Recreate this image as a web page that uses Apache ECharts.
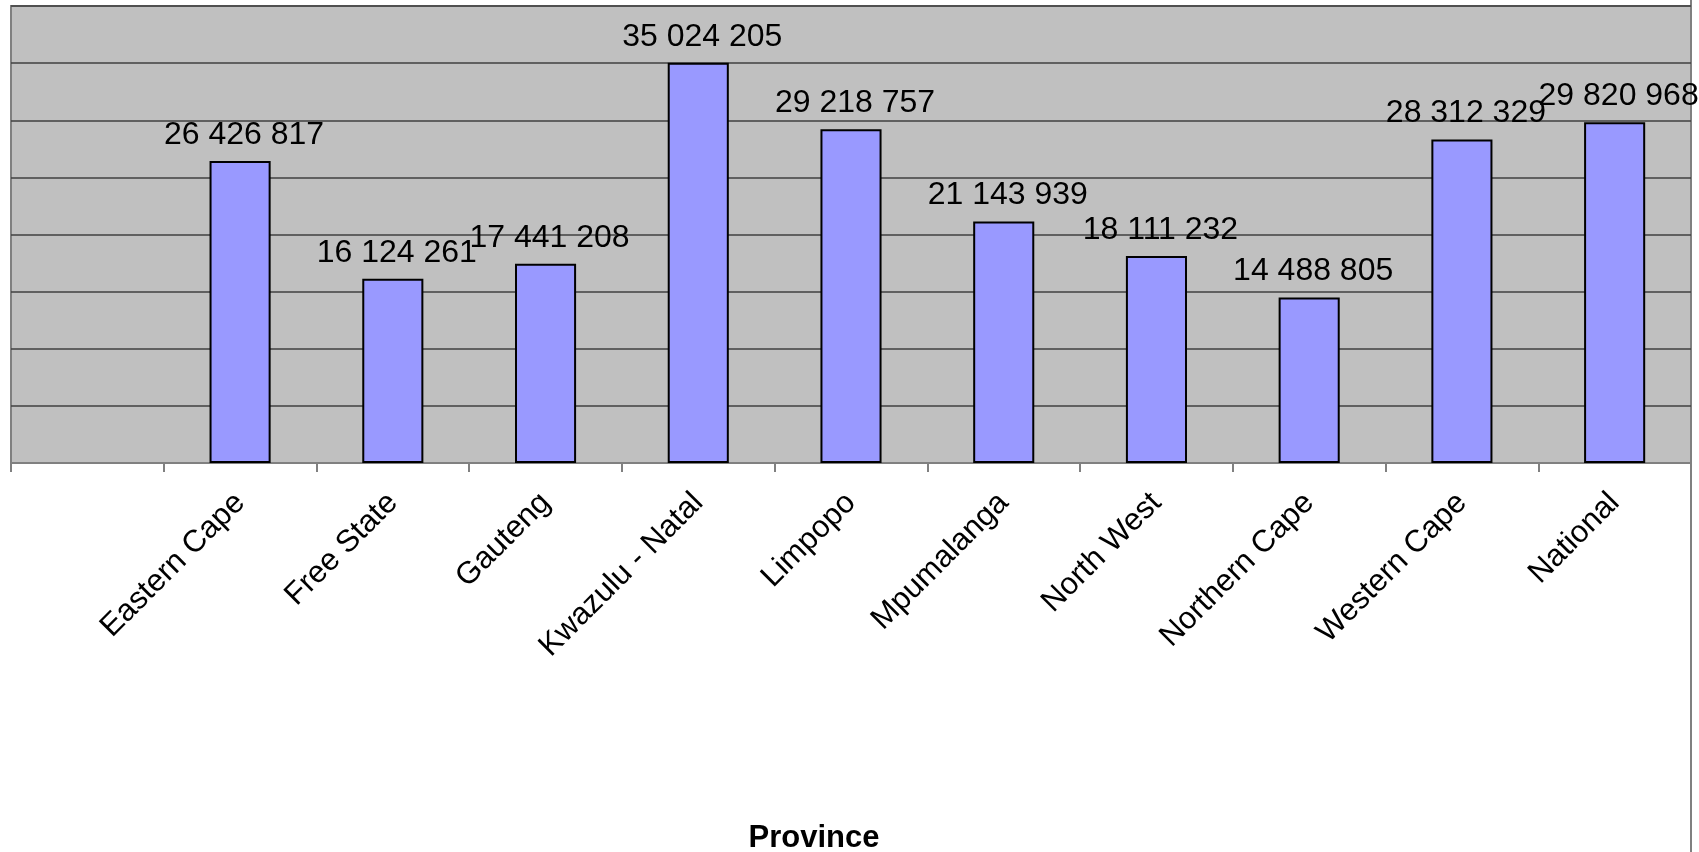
<!DOCTYPE html>
<html>
<head>
<meta charset="utf-8">
<script src="https://cdn.jsdelivr.net/npm/echarts@6/dist/echarts.min.js"></script>
<style>
  html, body { margin: 0; padding: 0; background: #ffffff; }
  #chart { width: 1699px; height: 852px; }
</style>
</head>
<body>
<div id="chart"></div>
<script>
// Provinces (the first slot is an empty category, as in the source sheet)
const categories = ['', 'Eastern Cape', 'Free State', 'Gauteng', 'Kwazulu - Natal', 'Limpopo',
  'Mpumalanga', 'North West', 'Northern Cape', 'Western Cape', 'National'];
const values = [null, 26426817, 16124261, 17441208, 35024205, 29218757,
  21143939, 18111232, 14488805, 28312329, 29820968];
const axisTitle = 'Province';
const yMin = 0;
const yMax = 40000000;
const yStep = 5000000;

const FONT = '"Liberation Sans", Arial, sans-serif';

function spaced(n) {
  return String(Math.round(n)).replace(/\B(?=(\d{3})+(?!\d))/g, ' ');
}

const chart = echarts.init(document.getElementById('chart'), null, { renderer: 'canvas' });

chart.setOption({
  animation: false,
  backgroundColor: '#ffffff',
  grid: {
    left: 11, right: 8, top: 6, bottom: 389,
    show: true,
    backgroundColor: '#c0c0c0',
    borderColor: '#808080',
    borderWidth: 2,
    outerBoundsMode: 'none',
    containLabel: false
  },
  xAxis: {
    type: 'category',
    data: categories,
    boundaryGap: true,
    axisLine: { show: true, lineStyle: { color: '#808080', width: 2 } },
    axisTick: { show: true, alignWithLabel: false, length: 9, lineStyle: { color: '#808080', width: 2 } },
    axisLabel: {
      interval: 0,
      rotate: 45,
      margin: 35,
      color: '#000000',
      fontFamily: FONT,
      fontSize: 31
    }
  },
  yAxis: {
    type: 'value',
    min: yMin,
    max: yMax,
    interval: yStep,
    axisLine: { show: false },
    axisTick: { show: false },
    axisLabel: { show: false },
    splitLine: { show: true, lineStyle: { color: '#404040', width: 1.5 } }
  },
  series: [{
    type: 'bar',
    data: values,
    barWidth: '40%',
    itemStyle: { color: '#9999ff', borderColor: '#000000', borderWidth: 2 },
    label: {
      show: true,
      position: 'top',
      distance: 10,
      offset: [4, 0],
      color: '#000000',
      fontFamily: FONT,
      fontSize: 32,
      formatter: p => spaced(p.value)
    }
  }],
  graphic: [
    {
      type: 'line',
      shape: { x1: 1691, y1: 0, x2: 1691, y2: 852 },
      style: { stroke: '#808080', lineWidth: 2 }
    },
    {
      type: 'text',
      x: 814,
      y: 838,
      style: {
        text: axisTitle,
        fill: '#000000',
        font: 'bold 31px ' + FONT,
        textAlign: 'center',
        textVerticalAlign: 'middle'
      }
    }
  ]
});
</script>
</body>
</html>
